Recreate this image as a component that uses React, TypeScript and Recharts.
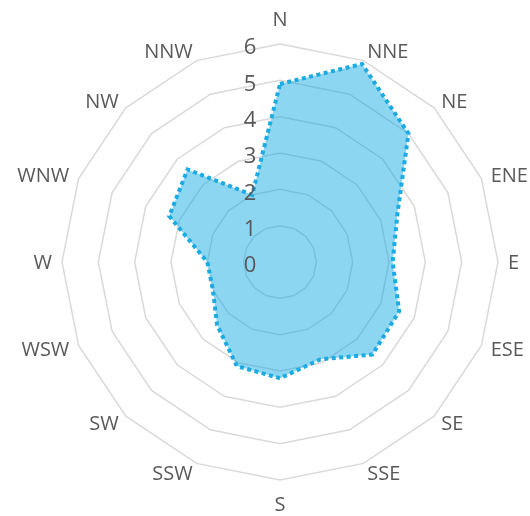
import React from 'react';
import { RadarChart, Radar, PolarGrid, PolarAngleAxis, PolarRadiusAxis } from 'recharts';

const directions = ['N', 'NNE', 'NE', 'ENE', 'E', 'ESE', 'SE', 'SSE', 'S', 'SSW', 'SW', 'WSW', 'W', 'WNW', 'NW', 'NNW'];
const frequency = [4.9, 5.9, 5.0, 3.5, 3.1, 3.55, 3.6, 2.9, 3.2, 3.1, 2.45, 2.0, 2.0, 3.3, 3.6, 2.0];
const radiusTicks = [0, 1, 2, 3, 4, 5, 6];

const data = directions.map((dir, i) => ({ dir, value: frequency[i] }));

const CX = 280;
const CY = 262;
const OUTER = 218;
const LABEL_R = 228;
const FONT = '"Open Sans", "Noto Sans", sans-serif';
const TEXT_COLOR = '#595959';

const AngleTick = (props: any) => {
  const { x, y, payload } = props;
  const dx = x - CX;
  const dy = y - CY;
  const len = Math.hypot(dx, dy) || 1;
  const ux = dx / len;
  const uy = dy / len;
  const px = CX + LABEL_R * ux;
  const py = CY + LABEL_R * uy;

  let anchor: 'start' | 'middle' | 'end' = 'middle';
  if (ux > 0.01) anchor = 'start';
  else if (ux < -0.01) anchor = 'end';

  let ty = py;
  let tdy: string | number = '0.35em';
  if (anchor === 'middle') {
    tdy = 0;
    ty = uy < 0 ? py - 8 : py + 21;
  }

  return (
    <text x={px} y={ty} dy={tdy} textAnchor={anchor} fontSize={20} fontFamily={FONT} fill={TEXT_COLOR}>
      {payload.value}
    </text>
  );
};

const RadiusTick = (props: any) => {
  const { x, y, payload } = props;
  return (
    <text x={x - 30} y={y + 2.5} dy="0.35em" textAnchor="middle" fontSize={22} fontFamily={FONT} fill={TEXT_COLOR}>
      {payload.value}
    </text>
  );
};

const App: React.FC = () => {
  return (
    <div style={{ position: 'fixed', left: 0, top: 0, width: 530, height: 516 }}>
      <RadarChart width={530} height={516} data={data} cx={CX} cy={CY} outerRadius={OUTER}>
        <PolarGrid gridType="polygon" radialLines={false} stroke="#d9d9d9" strokeWidth={1.5} />
        <PolarAngleAxis dataKey="dir" tick={<AngleTick />} tickLine={false} axisLine={false} />
        <Radar
          dataKey="value"
          stroke="#1BAAE2"
          strokeWidth={4}
          strokeDasharray="4 3.5"
          fill="#00A5E0"
          fillOpacity={0.45}
          dot={false}
          isAnimationActive={false}
        />
        <PolarRadiusAxis
          angle={90}
          domain={[0, 6]}
          ticks={radiusTicks as any}
          tickCount={7}
          axisLine={false}
          tickLine={false}
          tick={<RadiusTick />}
        />
      </RadarChart>
    </div>
  );
};

export default App;
